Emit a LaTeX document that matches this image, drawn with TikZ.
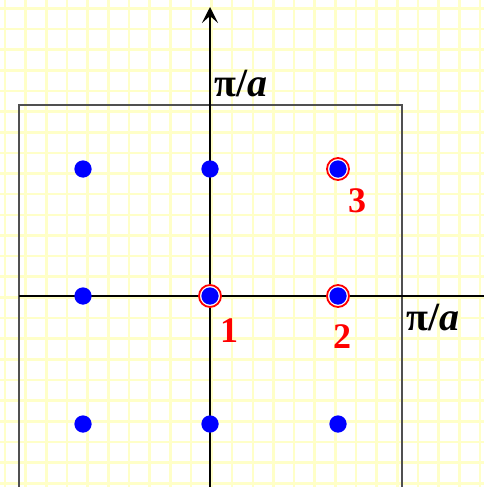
\documentclass[tikz,border=0pt]{standalone}
\usepackage{fontspec}
\setmainfont{Liberation Serif}
\usetikzlibrary{arrows.meta}
\definecolor{gridyellow}{RGB}{255,255,200}
\definecolor{dotblue}{RGB}{0,0,255}
\definecolor{boxgray}{RGB}{80,80,80}
\begin{document}
\begin{tikzpicture}[x=1pt,y=-1pt,
  gridline/.style={draw=gridyellow, line width=2.6pt},
  boxline/.style={draw=boxgray, line width=1.3pt},
  axisline/.style={draw=black, line width=2pt},
  dot/.style={circle, fill=dotblue, minimum size=17.3pt, inner sep=0pt},
  ring/.style={circle, draw=red, line width=1.8pt, fill=white, minimum size=22pt, inner sep=0pt},
  ptlabel/.style={text=red, font=\fontsize{36}{36}\selectfont\bfseries, anchor=base, inner sep=0pt},
  axlabel/.style={font=\fontsize{40}{40}\selectfont\bfseries, anchor=base west, inner sep=0pt}]
\useasboundingbox (0,0) rectangle (484,487);
\clip (0,0) rectangle (484,487);
% grid
\foreach \k in {0,...,23} {
  \draw[gridline] ({5+20.65*\k},0) -- ({5+20.65*\k},487);
  \draw[gridline] (0,{8.3+20.65*\k}) -- (484,{8.3+20.65*\k});
}
% frame
\draw[boxline] (19,500) -- (19,105) -- (402,105) -- (402,500);
% axes
\coordinate (xs) at (19,296);
\coordinate (xe) at (484,296);
\coordinate (ys) at (210,487);
\coordinate (ye) at (210,7);
\draw[axisline] (xs) -- (xe);
\draw[axisline, -{Stealth[length=16pt,width=16pt,inset=7pt]}] (ys) -- (ye);
\node[axlabel] (ly) at (214,96) {π/\textit{a}};
\node[axlabel] (lx) at (406,330) {π/\textit{a}};
% rings
\node[ring] (r1) at (210,296) {};
\node[ring] (r2) at (338,296) {};
\node[ring] (r3) at (338,169) {};
% dots
\foreach \cx/\ci in {83/1,210/2,338/3} {
  \foreach \cy/\cj in {169/1,296/2,424/3} {
    \node[dot] (d\ci\cj) at (\cx,\cy) {};
  }
}
% labels
\node[ptlabel] (l1) at (229,342) {1};
\node[ptlabel] (l2) at (342,348) {2};
\node[ptlabel] (l3) at (357,212) {3};
\end{tikzpicture}
\end{document}
